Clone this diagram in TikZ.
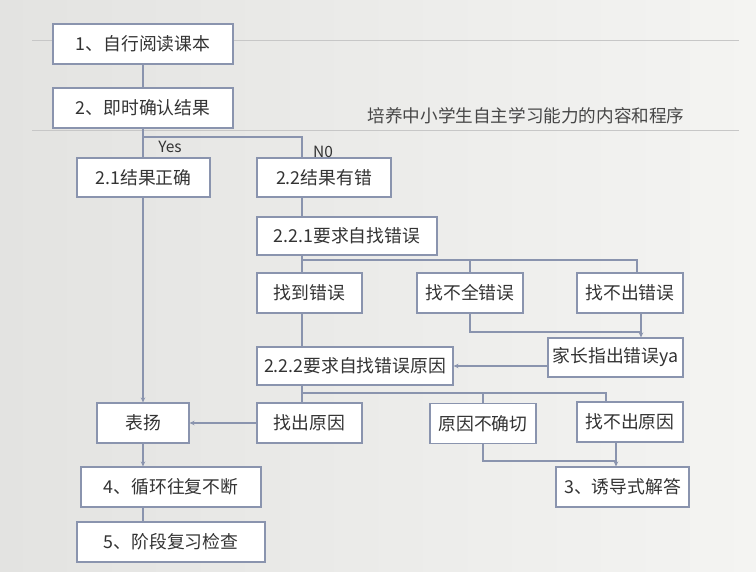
\documentclass[tikz,border=0pt]{standalone}
\usepackage{fontspec}
\usepackage{xcolor}
\usepackage{tikz}
\usetikzlibrary{positioning,arrows.meta,calc}
\newfontfamily\cjk{Noto Sans CJK SC}
\definecolor{lineblue}{HTML}{8A94AE}
\definecolor{txtgray}{HTML}{333333}
\definecolor{paperL}{HTML}{E3E3E1}
\definecolor{paperR}{HTML}{F4F4F2}
\tikzset{
  box/.style={draw=lineblue,line width=1.1pt,fill=white,align=center,inner sep=0pt,minimum height=40pt,text=txtgray,font=\cjk\fontsize{17.8}{20}\selectfont},
  wire/.style={draw=lineblue,line width=1.1pt},
  arr/.style={wire,-{Stealth[length=5pt,width=4.5pt]}},
  rule/.style={draw=black!22,line width=0.6pt},
  lbl/.style={text=txtgray,inner sep=0pt,font=\cjk\fontsize{15.5}{18}\selectfont},
  title/.style={text=black!72,inner sep=0pt,font=\cjk\fontsize{17.6}{20}\selectfont},
}

\begin{document}
\begin{tikzpicture}[x=1pt,y=-1pt]
\useasboundingbox (0,0) rectangle (756,572);
\shade[left color=paperL,right color=paperR] (0,0) rectangle (756,572);
\draw[rule] (32,40) -- (739,40);
\draw[rule] (32,130) -- (739,130);

\node[title] (head) at (526,116) {培养中小学生自主学习能力的内容和程序};

\node[box,minimum width=180pt] (s1) at (143,44) {1、自行阅读课本};
\node[box,minimum width=180pt] (s2) at (143,108) {2、即时确认结果};
\node[box,minimum width=133pt,minimum height=39pt] (r21) at (143.5,177.5) {2.1结果正确};
\node[box,minimum width=134pt,minimum height=39pt] (r22) at (324,177.5) {2.2结果有错};
\node[box,minimum width=180pt,minimum height=38pt] (c221) at (347,236) {2.2.1要求自找错误};
\node[box,minimum width=105pt] (f1) at (309.5,293) {找到错误};
\node[box,minimum width=106pt] (f2) at (470,293) {找不全错误};
\node[box,minimum width=106pt] (f3) at (630,293) {找不出错误};
\node[box,minimum width=135pt,minimum height=39pt] (par) at (615.5,357.5) {家长指出错误ya};
\node[box,minimum width=196pt,minimum height=38pt] (c222) at (355,366) {2.2.2要求自找错误原因};
\node[box,minimum width=92pt] (praise) at (143,423) {表扬};
\node[box,minimum width=105pt] (g1) at (309.5,423) {找出原因};
\node[box,minimum width=106pt] (g2) at (483,423.5) {原因不确切};
\node[box,minimum width=106pt] (g3) at (630,422) {找不出原因};
\node[box,minimum width=133pt] (s3) at (622.5,487) {3、诱导式解答};
\node[box,minimum width=180pt] (s4) at (171,487) {4、循环往复不断};
\node[box,minimum width=188pt] (s5) at (171,542) {5、阶段复习检查};

\node[lbl] (yes) at (170,147) {Yes};
\node[lbl] (no) at (323,152) {N0};

\coordinate (yesno) at (143,137);
\coordinate (errbus) at (302,260);
\coordinate (helpbus) at (641,332);
\coordinate (whybus) at (302,393);
\coordinate (guidebus) at (616,461);

\draw[wire] (s1.south) -- (s2.north);
\draw[wire] (s2.south) -- (s2.south |- r21.north);
\draw[wire] (yesno) -| (r22.north -| errbus);
\draw[arr] (praise.north |- r21.south) -- (praise.north);
\draw[wire] (r22.south -| errbus) -- (c221.north -| errbus);
\draw[wire] (c221.south -| errbus) -- (f1.north -| errbus);
\draw[wire] (errbus) -| ([xshift=7pt]f3.north);
\draw[wire] (errbus -| f2.north) -- (f2.north);
\draw[wire] (f1.south -| errbus) -- (c222.north -| errbus);
\draw[wire] (f2.south) |- (helpbus);
\draw[arr] (f3.south -| helpbus) -- (par.north -| helpbus);
\draw[arr] (par.west |- c222.east) -- (c222.east);
\draw[wire] (c222.south -| whybus) -- (g1.north -| whybus);
\draw[wire] (whybus) -| ([xshift=-24pt]g3.north);
\draw[wire] (whybus -| g2.north) -- (g2.north);
\draw[arr] (g1.west) -- (praise.east);
\draw[wire] (g2.south) |- (guidebus);
\draw[arr] (g3.south -| guidebus) -- (s3.north -| guidebus);
\draw[arr] (praise.south) -- (praise.south |- s4.north);
\draw[wire] (s4.south -| praise) -- (s5.north -| praise);
\end{tikzpicture}
\end{document}
